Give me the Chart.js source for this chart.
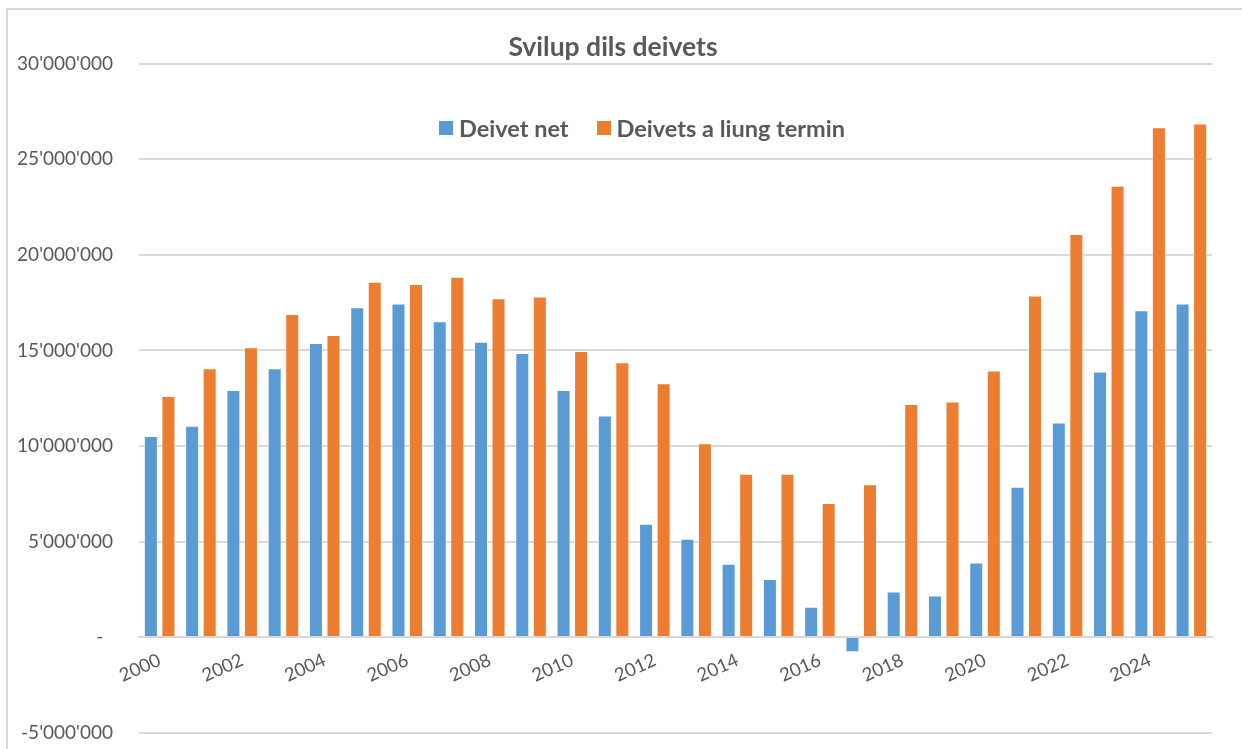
<!DOCTYPE html>
<html>
<head>
<meta charset="utf-8">
<script src="https://cdn.jsdelivr.net/npm/chart.js@4/dist/chart.umd.min.js"></script>
<style>
    html, body { margin: 0; padding: 0; background: #fff; }
    #wrap { position: relative; width: 1242px; height: 749px; overflow: hidden; }
    #frame { position: absolute; left: 6px; top: 8px; width: 1300px; height: 800px; border-left: 2px solid #d9d9d9; border-top: 2px solid #d9d9d9; box-sizing: border-box; }
    #chartBox { position: absolute; left: 0; top: 0; width: 1242px; height: 770px; }
    #legend { position: absolute; top: 114px; left: 439px; display: flex; align-items: center; font-family: Lato, sans-serif; font-weight: bold; font-size: 23.5px; color: #595959; }
    .item { display: flex; align-items: center; margin-right: 28px; }
    .swatch { width: 14px; height: 14px; margin-right: 6px; }
</style>
</head>
<body>
<div id="wrap">
    <div id="frame"></div>
    <!-- canvas runs past the bottom edge, like the cropped original -->
    <div id="chartBox"><canvas id="debtChart" width="1242" height="770"></canvas></div>
    <div id="legend"></div>
</div>
<script>
const years = ['2000', '2001', '2002', '2003', '2004', '2005', '2006', '2007', '2008', '2009', '2010', '2011', '2012',
    '2013', '2014', '2015', '2016', '2017', '2018', '2019', '2020', '2021', '2022', '2023', '2024', '2025'];

// Deivet net
const netDebt = [10520000, 11060000, 12930000, 14070000, 15390000, 17260000, 17450000, 16530000, 15460000, 14870000,
    12930000, 11600000, 5930000, 5150000, 3830000, 3040000, 1590000, -790000, 2380000, 2170000,
    3900000, 7870000, 11230000, 13900000, 17100000, 17450000];

// Deivets a liung termin
const longTermDebt = [12620000, 14070000, 15170000, 16910000, 15810000, 18590000, 18470000, 18860000, 17730000, 17820000,
    14970000, 14380000, 13280000, 10140000, 8550000, 8550000, 7020000, 8000000, 12200000, 12330000,
    13950000, 17870000, 21090000, 23620000, 26680000, 26870000];

const yMin = -5000000;
const yMax = 30000000;
const yStep = 5000000;

const textColor = '#595959';
const gridColor = '#d9d9d9';

function formatSwiss(value) {
    if (value === 0) return '-  ';
    const sign = value < 0 ? '-' : '';
    return sign + Math.abs(value).toString().replace(/\B(?=(\d{3})+(?!\d))/g, "'");
}

const datasets = [
    {
        label: 'Deivet net',
        data: netDebt,
        backgroundColor: '#5b9bd5',
        borderColor: 'rgba(255, 255, 255, 0.45)',
        borderWidth: 1
    },
    {
        label: 'Deivets a liung termin',
        data: longTermDebt,
        backgroundColor: '#ed7d31',
        borderColor: 'rgba(255, 255, 255, 0.45)',
        borderWidth: 1
    }
];

// legend sits on top of the plot, like the original
const legendEl = document.getElementById('legend');
datasets.forEach(ds => {
    const item = document.createElement('div');
    item.className = 'item';
    item.innerHTML = `<span class="swatch" style="background:${ds.backgroundColor}"></span><span>${ds.label}</span>`;
    legendEl.appendChild(item);
});

const ctx = document.getElementById('debtChart').getContext('2d');
new Chart(ctx, {
    type: 'bar',
    data: {
        labels: years,
        datasets: datasets
    },
    options: {
        responsive: false,
        animation: false,
        layout: {
            padding: { top: 0, right: 30, bottom: 0, left: 14 }
        },
        datasets: {
            bar: {
                categoryPercentage: 0.85,
                barPercentage: 0.8
            }
        },
        scales: {
            x: {
                position: { y: 0 },
                grid: { display: false },
                border: { display: true, color: gridColor, width: 2 },
                ticks: {
                    autoSkip: false,
                    minRotation: 24,
                    maxRotation: 24,
                    padding: 4,
                    color: textColor,
                    font: { family: 'Lato', size: 18.5 },
                    callback: function(value, index) {
                        return index % 2 === 0 ? years[index] : '';
                    }
                }
            },
            y: {
                min: yMin,
                max: yMax,
                afterFit: function(scale) {
                    scale.width = 125;
                },
                border: { display: false },
                grid: { color: gridColor, lineWidth: 2, drawTicks: false },
                ticks: {
                    stepSize: yStep,
                    padding: 26,
                    color: textColor,
                    font: { family: 'Lato', size: 19 },
                    callback: function(value) {
                        return formatSwiss(value);
                    }
                }
            }
        },
        plugins: {
            legend: { display: false },
            tooltip: { enabled: false },
            title: {
                display: true,
                text: 'Svilup dils deivets',
                color: textColor,
                font: { family: 'Lato', size: 26.5, weight: 'bold' },
                padding: { top: 32, bottom: 0 }
            }
        }
    }
});
</script>
</body>
</html>
